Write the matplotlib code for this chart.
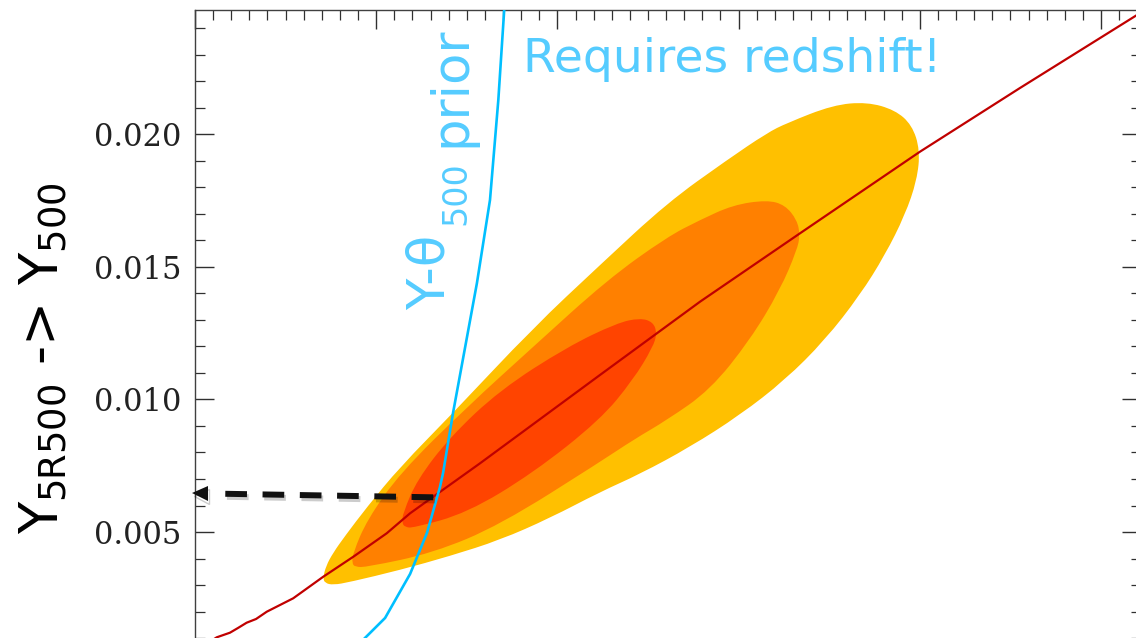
import numpy as np
import matplotlib
matplotlib.use("Agg")
import matplotlib.pyplot as plt
import matplotlib.patheffects as pe
from matplotlib.path import Path
from matplotlib.patches import PathPatch
from matplotlib.ticker import MultipleLocator, FormatStrFormatter

# Likelihood contours (outer -> inner), outlines in (theta, Y) space
outer_x = [0.7064, 0.7230, 0.7616, 0.8278, 0.9492, 1.1313, 1.4238, 1.8653,
           2.2351, 2.6049, 2.9360, 3.1567, 3.2671, 3.5210, 3.7086, 3.8631, 3.9570,
           4.0011, 3.9845, 3.9183, 3.8079, 3.6700, 3.4768, 3.2561, 3.0077, 2.7318,
           2.4558, 2.2351, 1.9592, 1.6832, 1.4073, 1.1313, 0.8554, 0.7616, 0.7174]
outer_y = [0.003264, 0.003717, 0.004208, 0.004849, 0.005943, 0.007453, 0.009491,
           0.012698, 0.015075, 0.017415, 0.019038, 0.020057, 0.020434,
           0.021113, 0.021226, 0.020925, 0.020358, 0.019415, 0.018283, 0.016962,
           0.015453, 0.013943, 0.012245, 0.010736, 0.009415, 0.008208, 0.007189,
           0.006509, 0.005528, 0.004698, 0.004094, 0.003566, 0.003113, 0.003000,
           0.003075]

middle_x = [0.8664, 0.8720, 0.9492, 1.1313, 1.5011, 1.8653, 2.2737, 2.6049, 2.7870,
            2.9691, 3.1567, 3.2561, 3.3223, 3.3389, 3.3223, 3.2285, 3.0629, 2.8422,
            2.6049, 2.4172, 2.2351, 1.6832, 1.3135, 0.9492, 0.8830]
middle_y = [0.003830, 0.004208, 0.005453, 0.007226, 0.009717, 0.011981, 0.014509,
            0.016132, 0.016774, 0.017340, 0.017528, 0.017340, 0.016774, 0.016208,
            0.015642, 0.014132, 0.012245, 0.010358, 0.009226, 0.008472, 0.007642,
            0.005264, 0.004208, 0.003679, 0.003679]

inner_x = [1.1424, 1.1479, 1.2252, 1.4073, 1.6832, 2.0530, 2.3289, 2.4558, 2.5276,
           2.5497, 2.5276, 2.4172, 2.2351, 1.8653, 1.5011, 1.2031, 1.1589]
inner_y = [0.005340, 0.005717, 0.006962, 0.008585, 0.010358, 0.011981, 0.012887,
           0.013075, 0.012925, 0.012509, 0.011981, 0.010736, 0.009226, 0.007226,
           0.005717, 0.005151, 0.005189]

# Scaling relation Y5R500 -> Y500
rel_x = [0.055, 0.120, 0.193, 0.237, 0.285, 0.337, 0.396, 0.469, 0.542, 0.708,
         0.874, 1.058, 1.187, 1.315, 1.573, 2.235, 2.787, 3.339, 4.001, 4.553, 5.326]
rel_y = [0.000736, 0.001026, 0.001200, 0.001377, 0.001577, 0.001717, 0.001992,
         0.002245, 0.002498, 0.003313, 0.004068, 0.004951, 0.005706, 0.006332,
         0.007592, 0.010925, 0.013690, 0.016272, 0.019351, 0.021755, 0.025053]

# Y-theta500 prior curve
prior_x = [1.7136, 1.674, 1.628, 1.556, 1.424, 1.369, 1.352, 1.280, 1.187, 1.049,
           0.927, 0.855]
prior_y = [0.025453, 0.021302, 0.017528, 0.014396, 0.009491, 0.007226, 0.006698,
           0.004962, 0.003415, 0.001755, 0.000925, 0.000358]

# read-off arrow: from the crossing point back to the Y axis
arrow_x = [1.315, 0.1656]
arrow_y = [0.006309, 0.006442]
arrow_tip = (-0.018, 0.00646)

y_major = [0.005, 0.010, 0.015, 0.020]
contour_colors = ["#FFC000", "#FF8000", "#FF4400"]


def smooth_outline(xs, ys):
    pts = np.column_stack([xs, ys])
    mids = (pts + np.roll(pts, -1, axis=0)) / 2
    verts = [mids[-1]]
    codes = [Path.MOVETO]
    for p, m in zip(pts, mids):
        verts += [p, m]
        codes += [Path.CURVE3, Path.CURVE3]
    return Path(verts, codes)


plt.rcParams["mathtext.fontset"] = "dejavusans"

fig = plt.figure(figsize=(11.36, 6.38), dpi=100)
ax = fig.add_axes([0.17165, -0.04154, 0.83319, 1.02587])
ax.set_xlim(0, 5.2235)
ax.set_ylim(0.0, 0.024698)

for (xs, ys), c, z in zip([(outer_x, outer_y), (middle_x, middle_y), (inner_x, inner_y)],
                          contour_colors, [1, 2, 3]):
    ax.add_patch(PathPatch(smooth_outline(xs, ys), facecolor=c, edgecolor="none", zorder=z))

ax.plot(rel_x, rel_y, color="#C00000", lw=1.6, zorder=4)
ax.plot(prior_x, prior_y, color="#00BFFF", lw=1.9, zorder=5)

shadow = [pe.SimpleLineShadow(offset=(1.2, -2.2), shadow_color="k", alpha=0.2), pe.Normal()]
ax.plot(arrow_x, arrow_y, color="#111111", lw=4.3, dashes=(3.63, 2.61),
        solid_capstyle="butt", dash_capstyle="butt", zorder=6, path_effects=shadow)
ax.plot([arrow_tip[0] + 0.045], [arrow_tip[1]], marker="<", ms=11, color="#111111",
        mec="none", clip_on=False, zorder=6, path_effects=shadow)

# annotations
blue_txt = "#55CCFF"
ax.text(1.810, 0.02237, "Requires redshift!", color=blue_txt, fontsize=34,
        family="DejaVu Sans", va="baseline", ha="left")
ax.text(1.3797, 0.013377, "Y-θ", color=blue_txt, fontsize=37, rotation=90,
        rotation_mode="anchor", ha="left", va="baseline", family="DejaVu Sans")
ax.text(1.4900, 0.016585, "500", color=blue_txt, fontsize=24, rotation=90,
        rotation_mode="anchor", ha="left", va="baseline", family="DejaVu Sans")
ax.text(1.4900, 0.019528, "prior", color=blue_txt, fontsize=37, rotation=90,
        rotation_mode="anchor", ha="left", va="baseline", family="DejaVu Sans")

fig.text(44 / 1136, 1 - 358 / 638, r"Y$_{\mathrm{5R500}}$ -> Y$_{\mathrm{500}}$",
         fontsize=38, rotation=90, ha="center", va="center", family="DejaVu Sans")

# axes styling
for s in ax.spines.values():
    s.set_color("#404040")
    s.set_linewidth(1.0)
ax.xaxis.set_major_locator(MultipleLocator(1.0))
ax.xaxis.set_minor_locator(MultipleLocator(0.1))
ax.set_yticks(y_major)
ax.yaxis.set_minor_locator(MultipleLocator(0.001))
ax.yaxis.set_major_formatter(FormatStrFormatter("%.3f"))
ax.tick_params(which="both", direction="in", top=True, right=True, color="#303030")
ax.tick_params(which="major", length=13.7, width=1.0, pad=9.6)
ax.tick_params(which="minor", length=7.2, width=0.9)
ax.tick_params(axis="x", labelbottom=False)
for lab in ax.get_yticklabels():
    lab.set_family("DejaVu Serif")
    lab.set_fontsize(22)
    lab.set_color("#222222")

fig.savefig("out.png", dpi=100)
